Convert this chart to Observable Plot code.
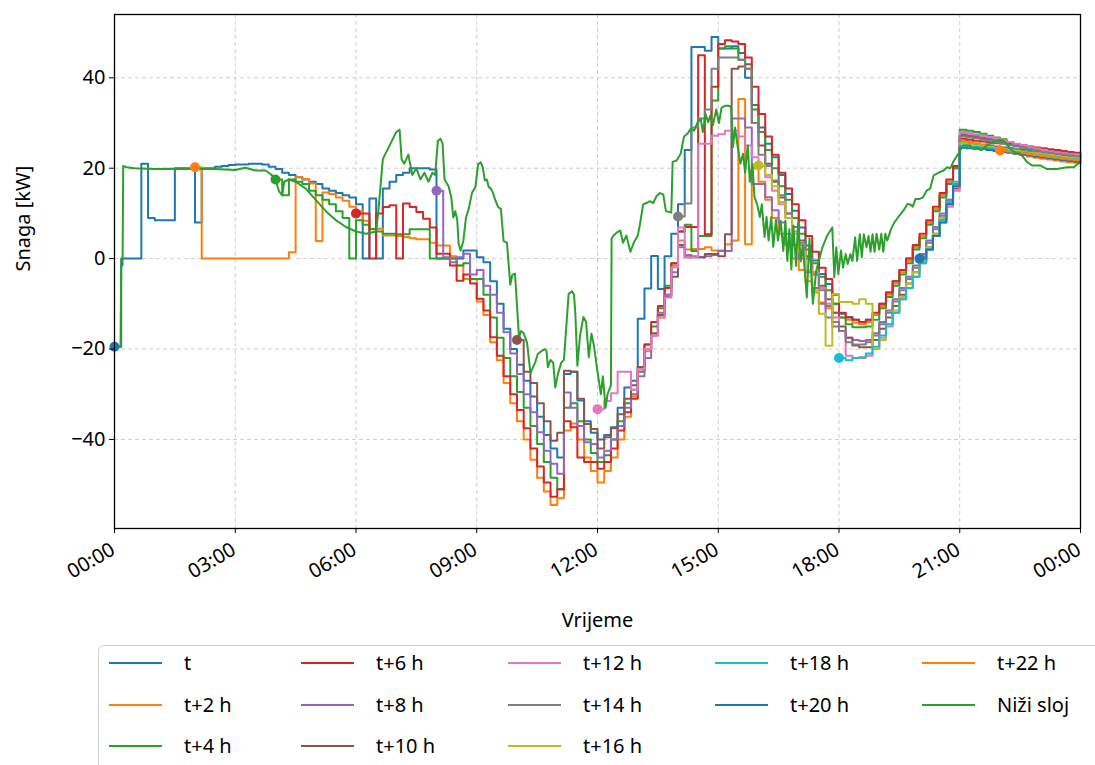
<!DOCTYPE html>
<html><head><meta charset="utf-8">
<script src="https://cdn.jsdelivr.net/npm/d3@7"></script>
<script src="https://cdn.jsdelivr.net/npm/@observablehq/plot@0.6"></script>
<style>
html,body{margin:0;padding:0;background:#fff;width:1095px;height:765px;overflow:hidden;font-family:"Noto Sans",sans-serif;}
#chart{position:relative;width:1095px;height:765px;}
.legend{position:absolute;left:98px;top:645px;width:1020px;height:140px;border:1.5px solid #d0d0d0;border-radius:6px;box-sizing:border-box;background:#fff;}
.item{position:absolute;display:flex;align-items:center;font-size:20px;color:#000;white-space:nowrap;height:30px;line-height:30px;}
.sw{display:inline-block;width:53px;height:2.5px;margin-right:22px;}
</style></head><body><div id="chart"></div><script>
// ---- data ----
const seriesNames = ["t","t+2 h","t+4 h","t+6 h","t+8 h","t+10 h","t+12 h","t+14 h","t+16 h","t+18 h","t+20 h","t+22 h"];
const seriesStartHour = [0,2,4,6,8,10,12,14,16,18,20,22];
const seriesColors = ["#1f77b4","#ff7f0e","#2ca02c","#d62728","#9467bd","#8c564b","#e377c2","#7f7f7f","#bcbd22","#17becf","#1f77b4","#ff7f0e"];
const lowerName = "Niži sloj";
const lowerColor = "#2ca02c";
const xTickHours = [0,3,6,9,12,15,18,21,24];
const yTicks = [-40,-20,0,20,40];

// 10-minute values from each forecast's start hour to 24:00
const fc_t = [
 -19.5,0,0,0,21,9, 8.5,8.5,8.5,20,20,20, 8,20,20,20.3,20.5,20.7, 20.8,20.8,21,21,20.8,20.3,
 19.8,19,18.5,18,17.5,17, 16.5,15.5,15,14.5,14,13.5, 12,0,13.3,0,15.5,17, 18.5,19,20,20,20,19.7,
 0,0,0,0,1.8,1.8, 0.3,-0.8,-5,-10,-15.5,-20, -23.5,-27,-30.5,-35,-39,-42, -44,-25.5,-25,-31.4,-36,-38.5,
 -40,-39,-37.3,-33,-28.5,-27, -13.3,-6.6,0.6,-6.7,0.5,5.5, 12,24,46.8,46.8,46,49, 46.5,46.5,47,45.5,40,34,
 29,25.4,22.4,18.5,14.3,10.6, 6.9,2.9,-0.4,-3.4,-5.6,-10, -12.2,-12.9,-13.5,-14,-13.5,-12.5, -10,-7.5,-5,-2.5,0,2.5,
 5,8,11,14,17,20, 25.5,25.4,25.3,25.2,25,24.8, 24.6,24.4,24.2,24,23.8,23.6, 23.4,23.2,23,22.8,22.6,22.4];
const fc_t2 = [
 20.2,0,0,0,0,0, 0,0,0,0,0,0, 0,0,1.4,18,17.6,16.6, 3.9,14.6,14.3,13.5,12.8,11.5,
 10.5,8.4,6.6,6.6,5.1,5.1, 5,4.8,4.5,4.3,4.3,3.5, 2.9,2.9,0.5,-1.5,-4.5,-4.5, -9.5,-12.5,-18.5,-22.5,-27.5,-32,
 -36,-40,-44.5,-48.5,-51.5,-54.5, -53,-38,-36.5,-40,-44,-47, -49.5,-47,-44,-40,-35,-30.5, -24,-20.5,-17,-13,-8,-1.5,
 4,2,2.1,2.1,2.5,1.8, 1.8,3.2,4,35.3,3.2,20, 17,13,9,5.5,3,0, -2.5,-5,-7.5,-9.7,-11,-12,
 -13,-13.5,-14.2,-14.5,-14,-12.5, -10.5,-8,-5.5,-3,-0.5,2.5, 5,8,11,14,17,20.5, 26,25.8,25.5,25.2,24.8,24.4,
 24,23.6,23.2,22.9,22.6,22.3, 22.1,21.9,21.7,21.5,21.3,21.2];
const fc_t4 = [
 17.5,14,17.5,17,16.5,15, 14,13,12,10.5,9,0, 8.5,7.5,6.5,6,5.5,5.5, 5.4,5.4,6.5,6.5,6.5,0,
 0,0,0,-1.5,-1,-4.5, -4.5,-8,-13,-17.5,-22,-26, -29.5,-33,-37,-41,-45,-48.5, -51,-33,-32,-36,-40,-43,
 -45,-43.5,-40,-36,-32,-29, -25,-19,-15,-11,-6,-1, 6,7.5,1.7,5,5,35, 46.5,47,46.5,44,42,33,
 28,24,20,16,13,9, 5.5,2,-1,-4,-7,-10, -13,-14.5,-15.2,-15.2,-15,-13.5, -11,-8.5,-6,-3.5,-1,2,
 4.5,7.5,10.5,13.5,16.5,20, 28.5,28.3,28,27.6,27.2,26.8, 26.4,25.8,25.2,24.6,24.2,23.8, 23.4,23.2,23,22.8,22.6,22.4];
const fc_t6 = [
 10,10,0,10,11.4,11.8, 0,12.2,11.4,10.3,8.8,6.9, 1.1,1.1,-1.5,-4.9,-3.5,-5.5, -8.9,-11.5,-17.4,-21.5,-26,-30,
 -33.5,-37.5,-42,-46,-49.5,-52.7, -51,-36,-37.3,-44,-45,-45, -46.5,-45,-42,-38,-34,-31, -24.5,-19,-14,-10.5,-6.5,-1,
 6,7,7,45,5.4,38, 47.5,48.3,48,47.5,44.5,38, 32,27,23,19,15.5,12, 8.5,5,1.5,-2,-4.5,-8,
 -12,-13,-13.5,-14,-13.5,-12, -10,-7.5,-5,-2.5,0,3, 5.5,8.5,11.5,14.5,17.5,20.5, 26.5,26.3,26.1,25.9,25.7,25.5,
 25.5,25.3,25.2,25,24.8,24.6, 24.4,24.2,24,23.8,23.6,23.4];
const fc_t8 = [
 15,0.3,-0.8,0.3,1.1,-3.5, -2.5,-6,-8,-12,-16.3,-21, -25.5,-30,-34,-38.4,-42.5,-45.4, -47.6,-29.6,-33,-37,-40.6,-41,
 -44,-42.5,-40,-37,-33,-30, -26,-22,-17,-12,-8,-3, 2.5,0.8,0.5,0.3,0.5,0.8, 1.7,1.7,31,31,29,16.5,
 16.5,13.6,10.7,8,5.5,3, 0,-3,-6.5,-10,-13,-15, -16,-17.5,-18,-18.2,-18,-16.5, -14,-11.5,-9,-6.5,-4,-1.5,
 1,4,7,10,13,16.5, 27.5,27.3,27.1,26.8,26.5,26.2, 25.9,25.6,25.3,25,24.7,24.4, 24.1,23.8,23.6,23.4,23.2,23];
const fc_t10 = [
 -18,-25,-27.5,-32,-36,-40.3, -38.5,-24.8,-25,-31,-36.6,-37.7, -42,-39.5,-37.5,-34.4,-31,-28, -24,-20,-16.5,-12.5,-8.5,-4,
 3,0.3,0.3,0.3,1,1, 0.5,5.4,42,42.5,43,30, 25,21,17,13.5,10,7, 4,0.5,-3,-6,-9,-12,
 -15,-17.5,-19.2,-19.6,-19.6,-18, -15.5,-13,-10.5,-8,-5.5,-3, -0.5,2.5,5.5,8.5,12,15.5, 27.3,27,26.8,26.5,26.2,25.9,
 25.6,25.3,25,24.7,24.4,24.1, 23.8,23.5,23.3,23.1,22.9,22.7];
const fc_t12 = [
 -33.3,-31.5,-29.8,-25,-25,-29, -24.4,-20,-17,-13,-8.6,-1.9, 6.9,0.3,0.3,25.4,25.4,27.2, 27.5,28.3,28.3,27,25,22.4,
 20.5,18,15,12,9,6, 3,0,-3,-6.5,-10,-13, -16,-21.5,-22,-22,-21.5,-20, -17.5,-15,-12,-9,-6.5,-4,
 -1,2,5,8,11.5,15, 28,27.8,27.5,27.2,26.9,26.6, 26.2,25.8,25.4,25,24.6,24.3, 24,23.7,23.5,23.3,23.1,23];
const fc_t14 = [
 9.3,12.2,29,31,33,42, 44.5,44.5,44.5,44,42,30, 23,20.5,17.3,14,10,7, 3.5,0,-3.5,-7,-10.5,-14,
 -16,-18.5,-19,-19,-18.5,-17, -14.5,-12,-9.5,-7,-4.5,-2, 0.5,3.5,6.5,9.5,13,16.5, 27,26.8,26.6,26.3,26,25.7,
 25.4,25.1,24.8,24.5,24.2,23.9, 23.6,23.4,23.2,23,22.8,22.6];
const fc_t16 = [
 20.6,18.5,16,12.5,9,5.5, 1.5,-2.5,-7,-12.2,-19.3,-7.8, -9.6,-9.6,-10,-9,-10,-20, -18,-14.5,-11.5,-8.5,-5.5,-3,
 -0.5,2.5,5.5,9,12.5,16, 25.5,25.3,25.1,24.9,24.7,24.5, 24.3,24.1,23.9,23.7,23.5,23.3, 23.1,22.9,22.7,22.5,22.3,22.2];
const fc_t18 = [
 -22,-22.5,-22,-21.8,-21,-19.5, -17,-14.5,-12,-9,-6.5,-4, -1,2,5,8.5,12.5,17, 25,24.8,24.7,24.6,24.4,24.2,
 24,23.8,23.6,23.4,23.2,23, 22.8,22.6,22.4,22.2,22,21.9];
const fc_t20 = [
 0,2,5,8,12,16, 24.5,24.4,24.3,24.2,24,23.8, 23.6,23.4,23.2,23,22.8,22.6, 22.4,22.2,22,21.8,21.6,21.5];
const fc_t22 = [
 23.9,23.7,23.5,23.3,23.1,22.9, 22.7,22.5,22.3,22.1,21.9,21.8];

// lower layer (Niži sloj): [time, kW]
const lowerLayer = [
 ["0:00",-19.5],["0:09",-19.5],["0:10",-1.5],["0:12",-1.5],["0:13",20.5],["0:18",20.2],["0:30",20],["1:00",19.8],["1:30",19.9],["2:00",19.8],["2:30",19.8],["3:00",19.6],["3:15",20.1],["3:30",19.5],["3:45",19.5],["3:50",19],["3:55",18.4],
 ["4:00",17.5],["4:05",15],["4:10",14],["4:13",17],["4:20",17.5],["4:30",17],["4:45",15.5],["5:00",13],["5:15",10.5],["5:30",8.5],["5:45",7],["6:00",6],["6:15",5.5],["6:30",6],["6:33",10],["6:40",22],["6:50",25],
 ["7:00",28],["7:05",28.5],["7:08",22],["7:12",21],["7:18",23],["7:24",18.5],["7:30",20],["7:36",17.5],["7:42",19],["7:48",17],["7:54",19],["7:58",18.5],["8:02",26],["8:06",26.5],["8:09",25.5],["8:12",17.5],["8:18",16],
 ["8:22",13.6],["8:25",9.1],["8:28",10.5],["8:31",8.4],["8:33",3.2],["8:36",1.8],["8:40",3.9],["8:44",9.1],["8:48",11],["8:53",14.6],["8:58",15.8],["9:02",20.9],["9:06",21.3],["9:09",20.2],["9:12",17.3],["9:15",17.5],
 ["9:18",15.8],["9:21",15.5],["9:24",14.6],["9:28",12.8],["9:32",11.4],["9:36",11],["9:40",3.9],["9:45",3.5],["9:50",-5.8],["9:53",-3.6],["9:57",-3.3],["10:03",-17.5],["10:06",-16],["10:10",-16.5],["10:15",-18.6],
 ["10:20",-25.3],["10:27",-23],["10:31",-21.1],["10:37",-20.4],["10:42",-20],["10:44",-20.4],["10:46",-24],["10:50",-22.4],["10:54",-23],["10:57",-28.5],["11:01",-25.5],["11:06",-23],["11:10",-22.4],["11:14",-14],
 ["11:17",-7.8],["11:22",-7.2],["11:25",-8],["11:27",-12.2],["11:30",-23.7],["11:34",-17],["11:39",-12.9],["11:43",-14],["11:47",-21.8],["11:51",-16.6],["11:55",-19.5],["11:59",-24],["12:05",-30],["12:08",-26],
 ["12:12",-33],["12:15",-30],["12:20",-28],["12:21",4.5],["12:24",5.1],["12:29",5.8],["12:34",6.2],["12:38",3.5],["12:43",5.1],["12:49",1.5],["12:54",3.5],["13:00",5.1],["13:03",7.3],["13:08",12],["13:13",12.3],
 ["13:18",12.7],["13:23",12.3],["13:28",13.8],["13:33",14.5],["13:38",14.2],["13:42",10.5],["13:50",10.2],["13:52",21.4],["13:58",21.7],["14:04",23.2],["14:09",27],["14:14",27.6],["14:19",28.7],["14:24",28.3],
 ["14:29",30.1],["14:34",30.9],["14:37",28],["14:41",32],["14:45",30.2],["14:48",31.6],["14:52",29.5],["14:57",33],["15:01",30],["15:05",33.4],["15:10",33.8],["15:15",33.8],["15:19",33.6],["15:22",24.7],["15:25",29],
 ["15:29",24.7],["15:33",21],["15:37",23.2],["15:40",19],["15:44",25],["15:47",17],["15:51",21],["15:54",13.6],["15:58",12],["16:02",9.2],["16:05",12],["16:09",4.8],["16:12",9.2],["16:15",4],["16:19",9.2],
 ["16:22",2.6],["16:26",8.6],["16:29",4],["16:33",8.4],["16:37",1.7],["16:40",8.4],["16:43",-0.5],["16:46",6.5],["16:49",-2.4],["16:52",7.3],["16:56",-1.6],["16:59",8],["17:03",-0.6],["17:06",3],["17:12",-8.6],
 ["17:16",4.5],["17:21",-10],["17:26",-2.7],["17:30",-0.5],["17:35",2.4],["17:42",5],["17:50",6.9],["17:53",-4.1],["17:56",2.5],["17:59",-3.4],["18:03",1.8],["18:06",-2],["18:10",1],["18:13",-1.2],["18:17",1],
 ["18:20",-0.5],["18:24",4.7],["18:27",-0.5],["18:31",5.4],["18:34",0.3],["18:37",5.4],["18:41",2.5],["18:44",5],["18:47",1.5],["18:50",5.4],["18:53",1.5],["18:56",5.5],["19:00",2],["19:03",5.5],["19:06",1.5],
 ["19:09",5.5],["19:12",4],["19:17",6.3],["19:22",7.9],["19:28",9.1],["19:36",10.6],["19:42",12.1],["19:46",12],["19:50",11.5],["19:54",13.2],["20:00",13.2],["20:05",13.5],["20:11",15.1],["20:16",15.5],["20:21",18.4],
 ["20:26",18.8],["20:31",19.2],["20:36",19.5],["20:41",20.2],["20:46",20],["20:51",21.6],["20:58",23.2],["21:01",24],["21:05",25],["21:15",25],["21:20",24.3],["21:25",24.6],["21:32",24],["21:40",25],["21:53",26.1],
 ["22:00",26.3],["22:05",26],["22:10",25.4],["22:18",23.9],["22:24",23.3],["22:29",23.3],["22:35",22.4],["22:40",21.4],["22:48",20.6],["23:00",20.6],["23:10",19.8],["23:25",19.8],["23:40",20.2],["23:50",20.2],["23:55",20.9],["24:00",21.2]];

const forecastValues = [fc_t,fc_t2,fc_t4,fc_t6,fc_t8,fc_t10,fc_t12,fc_t14,fc_t16,fc_t18,fc_t20,fc_t22];

// ---- build tables ----
const T = (min) => new Date(Date.UTC(2024,0,1,0,min));
const parseHM = (s) => { const [h,m] = s.split(":").map(Number); return T(h*60+m); };
const stepRows = [], startDots = [];
forecastValues.forEach((vals, i) => {
  const s0 = seriesStartHour[i]*60;
  vals.forEach((v, j) => stepRows.push({series: seriesNames[i], color: seriesColors[i], t: T(s0 + j*10), v}));
  stepRows.push({series: seriesNames[i], color: seriesColors[i], t: T(24*60), v: vals[vals.length-1]});
  startDots.push({series: seriesNames[i], color: seriesColors[i], t: T(s0), v: vals[0]});
});
const lowerRows = lowerLayer.map(([s, v]) => ({t: parseHM(s), v}));
const xTicks = xTickHours.map(h => T(h*60));
const fmtTime = d3.utcFormat("%H:%M");
const fmtY = d => d < 0 ? "\u2212" + Math.abs(d) : String(d);

const plot = Plot.plot({
  width: 1095, height: 640,
  marginLeft: 114, marginRight: 15, marginTop: 14, marginBottom: 112,
  style: {fontFamily: "'Noto Sans', sans-serif", fontSize: "20px", color: "#000", background: "#fff"},
  x: {type: "utc", domain: [T(0), T(24*60)]},
  y: {domain: [-59.7, 54]},
  color: {type: "identity"},
  marks: [
    Plot.gridX(xTicks, {x: d => d, stroke: "#cfcfcf", strokeOpacity: 1, strokeDasharray: "4,3", strokeWidth: 1}),
    Plot.gridY(yTicks, {y: d => d, stroke: "#cfcfcf", strokeOpacity: 1, strokeDasharray: "4,3", strokeWidth: 1}),
    Plot.line(stepRows, {x: "t", y: "v", z: "series", stroke: "color", curve: "step-after", strokeWidth: 2}),
    Plot.line(lowerRows, {x: "t", y: "v", stroke: lowerColor, strokeWidth: 2}),
    Plot.dot(startDots, {x: "t", y: "v", fill: "color", r: 5}),
    Plot.frame({stroke: "#000", strokeWidth: 1.3}),
    Plot.axisY(yTicks, {tickSize: 5, tickPadding: 4, tickFormat: fmtY, label: null, fontSize: 20}),
    Plot.axisX(xTicks, {tickSize: 5, tickFormat: () => "", label: null}),
    Plot.text(xTicks, {x: d => d, frameAnchor: "bottom", text: d => fmtTime(d), rotate: -30, textAnchor: "end", dy: 25, dx: 2, fontSize: 20}),
    Plot.text(["Vrijeme"], {frameAnchor: "bottom", dy: 98, fontSize: 20}),
    Plot.text(["Snaga [kW]"], {frameAnchor: "left", dx: -91, rotate: -90, fontSize: 20})
  ]
});
const chart = document.getElementById("chart");
chart.appendChild(plot);

// legend (matplotlib column-major, 5 columns)
const legend = document.createElement("div");
legend.className = "legend";
const entries = seriesNames.map((n, i) => ({name: n, color: seriesColors[i]})).concat([{name: lowerName, color: lowerColor}]);
const colCounts = [3,3,3,2,2];
const colLeft = [10, 202, 409, 616, 823];
const rowTop = [2, 44, 85];
let k = 0;
colCounts.forEach((c, ci) => {
  for (let r = 0; r < c; r++) {
    const e = entries[k++];
    const it = document.createElement("div");
    it.className = "item";
    it.style.left = colLeft[ci] + "px";
    it.style.top = rowTop[r] + "px";
    it.innerHTML = `<span class="sw" style="background:${e.color}"></span><span>${e.name}</span>`;
    legend.appendChild(it);
  }
});
chart.appendChild(legend);
</script></body></html>
